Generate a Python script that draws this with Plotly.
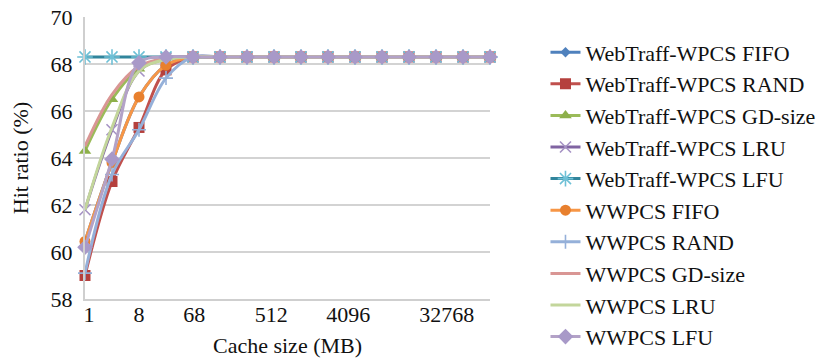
import plotly.graph_objects as go

# ---- data ----
x_index = [0, 1, 2, 3, 4, 5, 6, 7, 8, 9, 10, 11, 12, 13, 14, 15]
tick_labels = ["1", "8", "68", "512", "4096", "32768"]
tick_pos = [0.15, 2, 4.05, 6.9, 9.75, 13.4]

series_names = [
    "WebTraff-WPCS FIFO", "WebTraff-WPCS RAND", "WebTraff-WPCS GD-size",
    "WebTraff-WPCS LRU", "WebTraff-WPCS LFU", "WWPCS FIFO", "WWPCS RAND",
    "WWPCS GD-size", "WWPCS LRU", "WWPCS LFU",
]

wt_fifo = [60.45, 63.8, 66.6, 67.95, 68.3, 68.3, 68.3, 68.3, 68.3, 68.3, 68.3, 68.3, 68.3, 68.3, 68.3, 68.3]
wt_rand = [59.0, 63.0, 65.3, 67.75, 68.3, 68.3, 68.3, 68.3, 68.3, 68.3, 68.3, 68.3, 68.3, 68.3, 68.3, 68.3]
wt_gd = [64.3, 66.5, 67.8, 68.2, 68.3, 68.3, 68.3, 68.3, 68.3, 68.3, 68.3, 68.3, 68.3, 68.3, 68.3, 68.3]
wt_lru = [61.8, 65.2, 67.7, 68.25, 68.3, 68.3, 68.3, 68.3, 68.3, 68.3, 68.3, 68.3, 68.3, 68.3, 68.3, 68.3]
wt_lfu = [68.3, 68.3, 68.3, 68.3, 68.3, 68.3, 68.3, 68.3, 68.3, 68.3, 68.3, 68.3, 68.3, 68.3, 68.3, 68.3]
ww_fifo = [60.45, 63.8, 66.6, 67.95, 68.3, 68.3, 68.3, 68.3, 68.3, 68.3, 68.3, 68.3, 68.3, 68.3, 68.3, 68.3]
ww_rand = [59.1, 63.3, 65.2, 67.4, 68.3, 68.3, 68.3, 68.3, 68.3, 68.3, 68.3, 68.3, 68.3, 68.3, 68.3, 68.3]
ww_gd = [64.5, 66.7, 67.9, 68.25, 68.3, 68.3, 68.3, 68.3, 68.3, 68.3, 68.3, 68.3, 68.3, 68.3, 68.3, 68.3]
ww_lru = [61.8, 65.3, 67.7, 68.2, 68.3, 68.3, 68.3, 68.3, 68.3, 68.3, 68.3, 68.3, 68.3, 68.3, 68.3, 68.3]
ww_lfu = [60.2, 63.95, 68.05, 68.3, 68.3, 68.3, 68.3, 68.3, 68.3, 68.3, 68.3, 68.3, 68.3, 68.3, 68.3, 68.3]

series_values = [wt_fifo, wt_rand, wt_gd, wt_lru, wt_lfu, ww_fifo, ww_rand, ww_gd, ww_lru, ww_lfu]

# ---- styles ----
colors = ["#4F81BD", "#C0504D", "#9BBB59", "#8064A2", "#31859C",
          "#F79646", "#95B0D9", "#D99694", "#C3D69B", "#B3A2C7"]
marker_colors = ["#4F81BD", "#B5403D", "#8DB04A", "#A592C4", "#6EC0D6",
                 "#E8802E", "#95B0D9", "#D99694", "#C3D69B", "#A899C8"]
symbols = ["diamond", "square", "triangle-up", "x-thin", "asterisk-open",
           "circle", "cross-thin", None, None, "diamond"]
sizes = [8, 11, 11, 11, 13, 11, 10, 0, 0, 12]

FONT = "Liberation Serif"
FS = 22
fig = go.Figure()
for name, vals, col, mcol, sym, sz in zip(series_names, series_values, colors,
                                           marker_colors, symbols, sizes):
    if sym is None:
        fig.add_trace(go.Scatter(x=x_index, y=vals, name=name, mode="lines",
                                 line=dict(color=col, width=3, shape="spline"),
                                 cliponaxis=False))
    else:
        thin = sym in ("x-thin", "asterisk-open", "cross-thin")
        fig.add_trace(go.Scatter(
            x=x_index, y=vals, name=name, mode="lines+markers",
            line=dict(color=col, width=3, shape="spline"),
            marker=dict(symbol=sym, size=sz, color=mcol,
                        line=dict(color=mcol, width=1.6 if thin else 0)),
            cliponaxis=False))

fig.update_layout(
    width=833, height=363,
    margin=dict(l=85, r=328, t=17, b=64),
    paper_bgcolor="white", plot_bgcolor="white",
    font=dict(family=FONT, size=FS, color="#111111"),
    showlegend=True,
    legend=dict(x=1.137, xanchor="left", y=0.949, yanchor="top", maxheight=420,
                font=dict(family=FONT, size=FS, color="#111111"),
                bgcolor="rgba(0,0,0,0)", tracegroupgap=0),
    xaxis=dict(range=[0, 15], tickmode="array", tickvals=tick_pos, ticktext=tick_labels,
               showgrid=False, zeroline=False, showline=True, linecolor="#CFCFCF",
               linewidth=2, ticks="", ticklabelstandoff=-5, automargin=False,
               tickfont=dict(family=FONT, size=FS),
               title=dict(text="Cache size (MB)", font=dict(family=FONT, size=FS), standoff=11)),
    yaxis=dict(range=[58, 70], dtick=2, showgrid=True, gridcolor="#D3D3D3", gridwidth=2,
               zeroline=False, showline=True, linecolor="#CFCFCF", linewidth=2, ticks="",
               ticklabelstandoff=6, automargin=False, tickfont=dict(family=FONT, size=FS),
               title=dict(text="Hit ratio (%)", font=dict(family=FONT, size=FS), standoff=16)),
)

fig.write_html("out.html", config={"displayModeBar": False},
               post_script="document.body.style.margin='0px';")
